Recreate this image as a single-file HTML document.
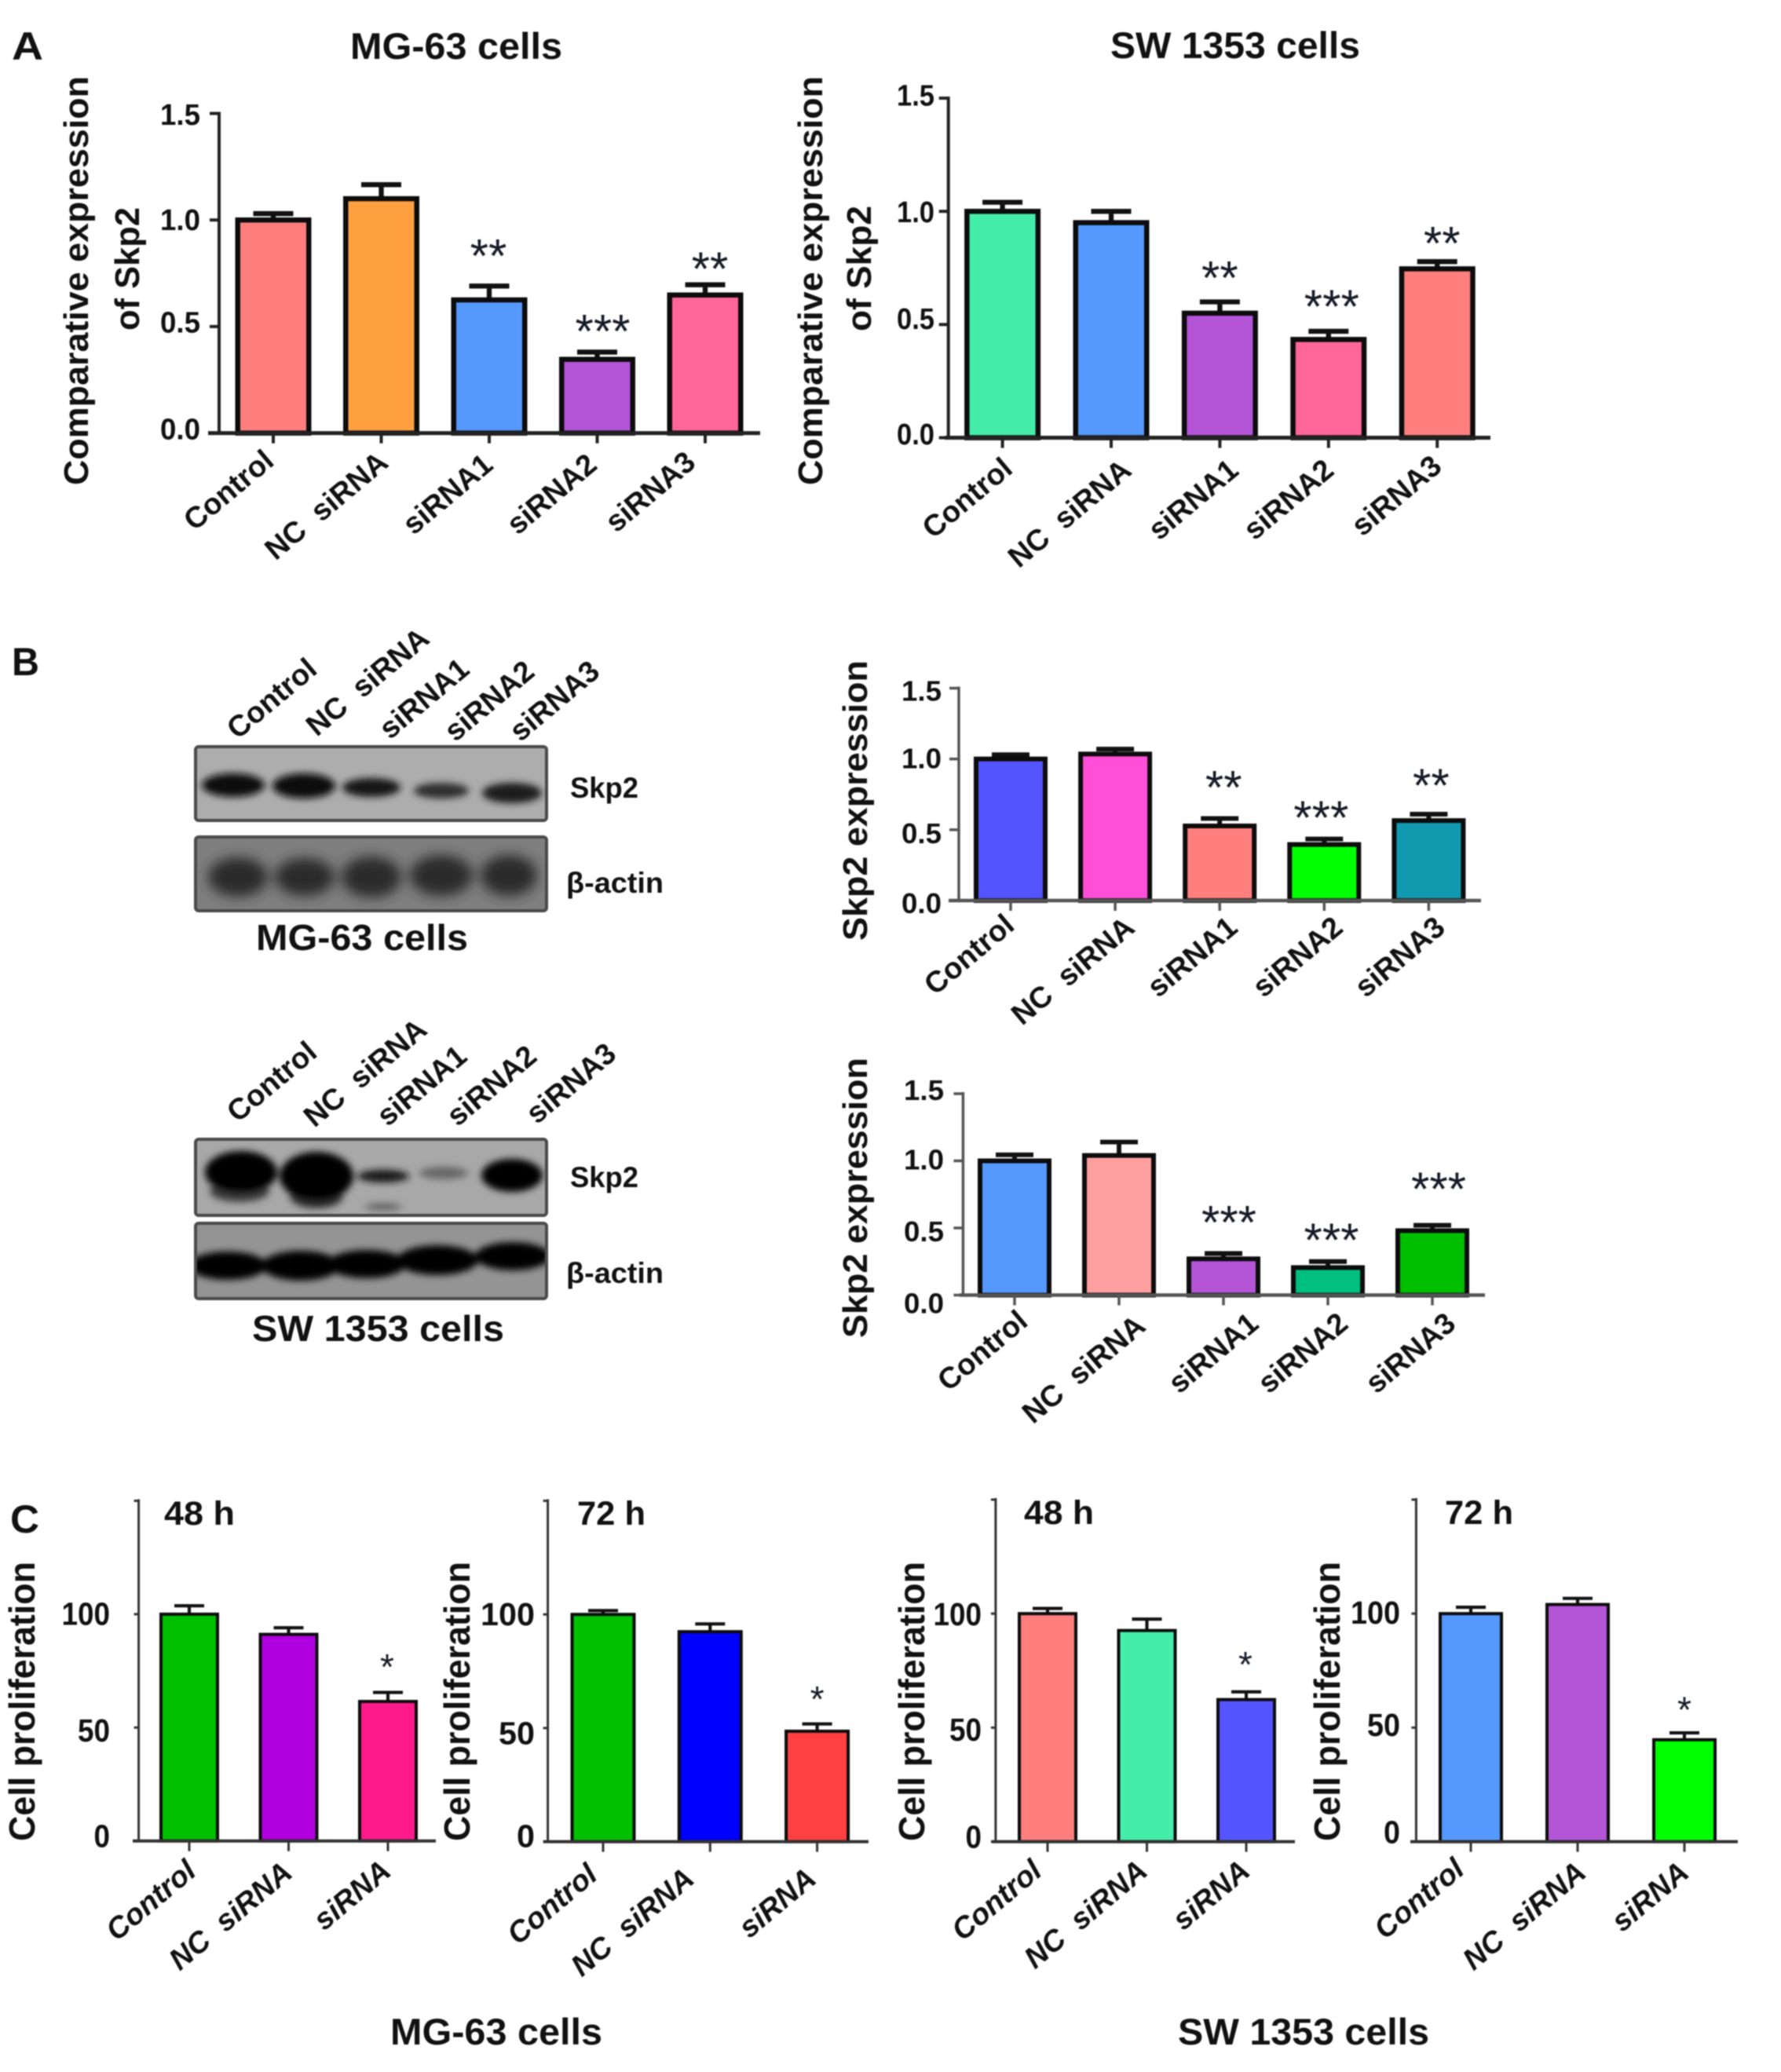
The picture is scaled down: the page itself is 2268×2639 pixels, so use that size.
<!DOCTYPE html>
<html lang="en">
<head>
<meta charset="utf-8">
<title>Skp2 knockdown figure</title>
<style>
html,body{margin:0;padding:0;background:#fff;}
#figure{display:block;width:2268px;height:2639px;filter:blur(0.7px);font-family:"Liberation Sans",sans-serif;}
#figure text{font-family:"Liberation Sans",sans-serif;font-weight:bold;fill:#111;}
</style>
</head>
<body>
<svg id="figure" xmlns="http://www.w3.org/2000/svg" width="2268" height="2639" viewBox="0 0 2268 2639">
  <defs>
    <filter id="soft" x="-40%" y="-80%" width="180%" height="260%"><feGaussianBlur stdDeviation="4.5"/></filter>
    <filter id="softer" x="-40%" y="-80%" width="180%" height="260%"><feGaussianBlur stdDeviation="8"/></filter>
    <clipPath id="clip-blot-1"><rect x="251" y="953" width="443" height="90"/></clipPath>
    <clipPath id="clip-blot-2"><rect x="251" y="1068" width="443" height="90"/></clipPath>
    <clipPath id="clip-blot-3"><rect x="251" y="1453" width="443" height="93"/></clipPath>
    <clipPath id="clip-blot-4"><rect x="251" y="1560" width="443" height="92"/></clipPath>
  </defs>
  <rect width="2268" height="2639" fill="#fff"/>

  <text x="15" y="76" font-size="50" textLength="40" lengthAdjust="spacingAndGlyphs">A</text>
  <text x="15" y="860" font-size="50" textLength="35" lengthAdjust="spacingAndGlyphs">B</text>
  <text x="13" y="1952" font-size="50" textLength="37" lengthAdjust="spacingAndGlyphs">C</text>

  <text x="446" y="75" font-size="47" textLength="270" lengthAdjust="spacingAndGlyphs">MG-63 cells</text>
  <text x="1414" y="74" font-size="47" textLength="318" lengthAdjust="spacingAndGlyphs">SW 1353 cells</text>

  <g>
    <g>
      <rect x="249" y="951" width="447" height="94" rx="4" fill="#adadad" stroke="#4a4a4a" stroke-width="4"/>
      <g clip-path="url(#clip-blot-1)"><g filter="url(#soft)" fill="#080808">
        <ellipse cx="297" cy="1000" rx="40" ry="15"/>
        <ellipse cx="387" cy="1001" rx="40" ry="16"/>
        <ellipse cx="473" cy="1003" rx="37" ry="12" fill="#141414"/>
        <ellipse cx="562" cy="1007" rx="35" ry="10" fill="#2e2e2e"/>
        <ellipse cx="652" cy="1010" rx="38" ry="13" fill="#1a1a1a"/>
      </g></g>
    </g>
    <g>
      <rect x="249" y="1066" width="447" height="94" rx="4" fill="#7f7f7f" stroke="#4a4a4a" stroke-width="4"/>
      <g clip-path="url(#clip-blot-2)"><g filter="url(#softer)" fill="#2a2a2a">
        <ellipse cx="303" cy="1117" rx="38" ry="25"/>
        <ellipse cx="388" cy="1117" rx="38" ry="24"/>
        <ellipse cx="473" cy="1117" rx="38" ry="26"/>
        <ellipse cx="562" cy="1115" rx="40" ry="26"/>
        <ellipse cx="648" cy="1115" rx="36" ry="26"/>
      </g></g>
    </g>
    <text text-anchor="end" font-size="38" transform="translate(406,856) rotate(-40)">Control</text>
    <text text-anchor="end" font-size="38" transform="translate(549,817) rotate(-40)">NC&#160;&#160;siRNA</text>
    <text text-anchor="end" font-size="38" transform="translate(600,856) rotate(-40)">siRNA1</text>
    <text text-anchor="end" font-size="38" transform="translate(683,859) rotate(-40)">siRNA2</text>
    <text text-anchor="end" font-size="38" transform="translate(766,859) rotate(-40)">siRNA3</text>
    <text x="726" y="1016" font-size="37" textLength="87" lengthAdjust="spacingAndGlyphs">Skp2</text>
    <text x="721" y="1137" font-size="37" textLength="124" lengthAdjust="spacingAndGlyphs">β-actin</text>
    <text x="326" y="1210" font-size="46" textLength="270" lengthAdjust="spacingAndGlyphs">MG-63 cells</text>
  </g>

  <g>
    <g>
      <rect x="249" y="1451" width="447" height="97" rx="4" fill="#a8a8a8" stroke="#4a4a4a" stroke-width="4"/>
      <g clip-path="url(#clip-blot-3)"><g filter="url(#soft)" fill="#000">
        <ellipse cx="305" cy="1517" rx="38" ry="14" fill="#3a3a3a"/>
        <ellipse cx="403" cy="1523" rx="34" ry="16" fill="#2c2c2c"/>
        <ellipse cx="307" cy="1493" rx="46" ry="27"/>
        <ellipse cx="403" cy="1498" rx="47" ry="31"/>
        <ellipse cx="488" cy="1498" rx="33" ry="8" fill="#141414"/>
        <ellipse cx="488" cy="1537" rx="24" ry="4" fill="#5a5a5a"/>
        <ellipse cx="565" cy="1494" rx="31" ry="8" fill="#666"/>
        <ellipse cx="652" cy="1497" rx="39" ry="21" fill="#050505"/>
      </g></g>
    </g>
    <g>
      <rect x="249" y="1558" width="447" height="96" rx="4" fill="#949494" stroke="#4a4a4a" stroke-width="4"/>
      <g clip-path="url(#clip-blot-4)"><g filter="url(#soft)" fill="#000">
        <ellipse cx="290" cy="1612" rx="50" ry="18"/>
        <ellipse cx="383" cy="1612" rx="50" ry="19"/>
        <ellipse cx="467" cy="1610" rx="50" ry="18"/>
        <ellipse cx="557" cy="1605" rx="52" ry="19"/>
        <ellipse cx="653" cy="1600" rx="48" ry="18"/>
      </g></g>
    </g>
    <text text-anchor="end" font-size="38" transform="translate(406,1344) rotate(-40)">Control</text>
    <text text-anchor="end" font-size="38" transform="translate(546,1315) rotate(-40)">NC&#160;&#160;siRNA</text>
    <text text-anchor="end" font-size="38" transform="translate(597,1349) rotate(-40)">siRNA1</text>
    <text text-anchor="end" font-size="38" transform="translate(686,1349) rotate(-40)">siRNA2</text>
    <text text-anchor="end" font-size="38" transform="translate(787,1346) rotate(-40)">siRNA3</text>
    <text x="726" y="1512" font-size="37" textLength="87" lengthAdjust="spacingAndGlyphs">Skp2</text>
    <text x="721" y="1634" font-size="37" textLength="124" lengthAdjust="spacingAndGlyphs">β-actin</text>
    <text x="321" y="1708" font-size="46" textLength="321" lengthAdjust="spacingAndGlyphs">SW 1353 cells</text>
  </g>

  <text x="209" y="1942" font-size="43" textLength="90" lengthAdjust="spacingAndGlyphs">48 h</text>
  <text x="735" y="1942" font-size="43" textLength="87" lengthAdjust="spacingAndGlyphs">72 h</text>
  <text x="1304" y="1941" font-size="43" textLength="89" lengthAdjust="spacingAndGlyphs">48 h</text>
  <text x="1840" y="1941" font-size="43" textLength="87" lengthAdjust="spacingAndGlyphs">72 h</text>
  <text x="497" y="2604" font-size="47" textLength="270" lengthAdjust="spacingAndGlyphs">MG-63 cells</text>
  <text x="1500" y="2604" font-size="47" textLength="320" lengthAdjust="spacingAndGlyphs">SW 1353 cells</text>

  <g id="charts"></g>
</svg>

<script>
// ---- chart data ----
const fiveCategories = ['Control', 'NC\u00a0\u00a0siRNA', 'siRNA1', 'siRNA2', 'siRNA3'];
const threeCategories = ['Control', 'NC\u00a0\u00a0siRNA', 'siRNA'];
const foldTicks = [1.5, 1.0, 0.5, 0.0];
const percentTicks = [100, 50, 0];

const a1Values = [1.00, 1.10, 0.625, 0.346, 0.648];
const a1Errors = [0.03, 0.066, 0.065, 0.034, 0.048];
const a1Stars = ['', '', '**', '***', '**'];

const a2Values = [1.00, 0.95, 0.55, 0.434, 0.746];
const a2Errors = [0.04, 0.05, 0.05, 0.036, 0.032];
const a2Stars = ['', '', '**', '***', '**'];

const b1Values = [1.00, 1.035, 0.527, 0.396, 0.565];
const b1Errors = [0.03, 0.035, 0.053, 0.039, 0.045];
const b1Stars = ['', '', '**', '***', '**'];

const b2Values = [1.00, 1.04, 0.27, 0.205, 0.48];
const b2Errors = [0.045, 0.10, 0.04, 0.045, 0.04];
const b2Stars = ['', '', '***', '***', '***'];

const c1Values = [100, 91.1, 61.5];
const c1Errors = [3.7, 2.9, 4.0];
const c1Stars = ['', '', '*'];

const c2Values = [100, 92.4, 48.6];
const c2Errors = [1.7, 3.4, 3.2];
const c2Stars = ['', '', '*'];

const c3Values = [100, 92.6, 62.3];
const c3Errors = [2.3, 5.0, 3.4];
const c3Stars = ['', '', '*'];

const c4Values = [100, 104, 44.7];
const c4Errors = [2.8, 2.7, 3.0];
const c4Stars = ['', '', '*'];

// ---- layout & style for each chart (not data) ----
const charts = [
  {id:'a-mg63', cats:fiveCategories, vals:a1Values, errs:a1Errors, stars:a1Stars, ticks:foldTicks, max:1.5,
   axisX:279, x0:265, x1:968, yTop:144.5, yBase:551.6, first:348, step:137.5, barW:97, sw:6.5, capW:51, axisW:4, axisC:'#222',
   colors:['#FF7F7F','#FFA040','#5599FF','#B455D8','#FF6699'],
   tickRight:255, charW:17, tickFont:38, tickNudge:[1,-1,-6,-6], anchor:[2,7],
   catFont:38, italic:false, catNudge:[[1,32],[9,34],[5,37],[0,37],[-12,34]],
   starFont:60, starPlace:[null,null,[-1,52],[7,40],[6,34]],
   ylabels:[{t:'Comparative expression',x:112,y0:97,y1:618,f:44},{t:'of Skp2',x:177,y0:264,y1:421,f:44}]},
  {id:'a-sw1353', cats:fiveCategories, vals:a2Values, errs:a2Errors, stars:a2Stars, ticks:foldTicks, max:1.5,
   axisX:1207.7, x0:1203, x1:1898, yTop:125, yBase:557.5, first:1276.6, step:138.4, barW:97, sw:6.5, capW:51, axisW:4, axisC:'#222',
   colors:['#44EEAA','#5599FF','#B455D8','#FF6699','#FF7F7F'],
   tickRight:1190, charW:16, tickFont:38, tickNudge:[-4,0,-8,-5], anchor:[3,4],
   catFont:38, italic:false, catNudge:[[12,39],[25,41],[23,41],[6,41],[5,36]],
   starFont:60, starPlace:[null,null,[0,44],[4,45],[6,37]],
   ylabels:[{t:'Comparative expression',x:1047,y0:97,y1:618,f:44},{t:'of Skp2',x:1109,y0:262,y1:422,f:44}]},
  {id:'b-mg63', cats:fiveCategories, vals:b1Values, errs:b1Errors, stars:b1Stars, ticks:foldTicks, max:1.5,
   axisX:1221, x0:1208, x1:1886, yTop:876.5, yBase:1147, first:1287, step:133.1, barW:94, sw:6, capW:48, axisW:3.5, axisC:'#555',
   colors:['#5555FF','#FF4FD8','#FF7F7F','#00FF00','#1199B0'],
   tickRight:1199, charW:17, tickFont:36, tickNudge:[3,-1,4,3], anchor:[4,9],
   catFont:38, italic:false, catNudge:[[3,26],[23,29],[21,29],[22,29],[19,29]],
   starFont:60, starPlace:[null,null,[5,53],[-4,41],[3,50]],
   ylabels:[{t:'Skp2 expression',x:1104,y0:841,y1:1198,f:44}]},
  {id:'b-sw1353', cats:fiveCategories, vals:b2Values, errs:b2Errors, stars:b2Stars, ticks:foldTicks, max:1.5,
   axisX:1226.4, x0:1222, x1:1891, yTop:1393, yBase:1649.5, first:1292, step:133, barW:94, sw:6, capW:48, axisW:3.5, axisC:'#555',
   colors:['#5599FF','#FF9F9F','#B455D8','#00C07F','#00BF00'],
   tickRight:1202, charW:17, tickFont:36, tickNudge:[-5,-2,4,10], anchor:[5,13],
   catFont:38, italic:false, catNudge:[[14,24],[31,30],[42,27],[23,27],[27,27]],
   starFont:60, starPlace:[null,null,[7,53],[4.5,41],[8,60]],
   ylabels:[{t:'Skp2 expression',x:1104,y0:1347,y1:1704,f:44}]},
  {id:'c-mg63-48h', cats:threeCategories, vals:c1Values, errs:c1Errors, stars:c1Stars, ticks:percentTicks, max:150,
   axisX:176.6, x0:169, x1:555, yTop:1911.5, yBase:2344.7, first:241, step:126.5, barW:76, sw:4, capW:38, axisW:3, axisC:'#333',
   colors:['#00C000','#B000E0','#FF1A8C'],
   tickRight:140, charW:20.5, tickFont:41, tickNudge:[-1,3,-7], anchor:[3,5],
   catFont:38, italic:true, catNudge:[[8,37],[4,39],[3,37]],
   starFont:46, starPlace:[null,null,[-1,43]],
   ylabels:[{t:'Cell proliferation',x:44,y0:1989,y1:2345,f:46}]},
  {id:'c-mg63-72h', cats:threeCategories, vals:c2Values, errs:c2Errors, stars:c2Stars, ticks:percentTicks, max:150,
   axisX:697.6, x0:692, x1:1106, yTop:1911.5, yBase:2345.6, first:768, step:136.3, barW:83, sw:4, capW:38, axisW:3, axisC:'#333',
   colors:['#00C000','#0000FF','#FF4040'],
   tickRight:681, charW:23, tickFont:41, tickNudge:[-1,6,-8], anchor:[3,5],
   catFont:38, italic:true, catNudge:[[-8,41],[-21,46],[-2,46]],
   starFont:46, starPlace:[null,null,[0,42]],
   ylabels:[{t:'Cell proliferation',x:598,y0:1989,y1:2345,f:46}]},
  {id:'c-sw1353-48h', cats:threeCategories, vals:c3Values, errs:c3Errors, stars:c3Stars, ticks:percentTicks, max:150,
   axisX:1267.9, x0:1263, x1:1649, yTop:1910, yBase:2345.6, first:1334, step:126.5, barW:76, sw:4, capW:38, axisW:3, axisC:'#333',
   colors:['#FF7F7F','#44EEAA','#5555FF'],
   tickRight:1250, charW:20.5, tickFont:41, tickNudge:[0,2,-7], anchor:[3,5],
   catFont:38, italic:true, catNudge:[[-8,36],[0,36],[4,36]],
   starFont:46, starPlace:[null,null,[-1,45]],
   ylabels:[{t:'Cell proliferation',x:1177,y0:1989,y1:2345,f:46}]},
  {id:'c-sw1353-72h', cats:threeCategories, vals:c4Values, errs:c4Errors, stars:c4Stars, ticks:percentTicks, max:150,
   axisX:1803.4, x0:1796, x1:2213, yTop:1910, yBase:2345.6, first:1873, step:136, barW:82, sw:4, capW:38, axisW:3, axisC:'#333',
   colors:['#5599FF','#B455D8','#00FF00'],
   tickRight:1783, charW:21, tickFont:41, tickNudge:[-2,-4,-13], anchor:[3,5],
   catFont:38, italic:true, catNudge:[[-9,34],[10,38],[5,38]],
   starFont:46, starPlace:[null,null,[0,40]],
   ylabels:[{t:'Cell proliferation',x:1706,y0:1989,y1:2345,f:46}]}
];

// ---- drawing helpers ----
const NS = 'http://www.w3.org/2000/svg';
function make(parent, tag, props, content) {
  const node = document.createElementNS(NS, tag);
  for (const key in props) node.setAttribute(key, props[key]);
  if (content !== undefined) node.textContent = content;
  parent.appendChild(node);
  return node;
}
function slug(s) { return s.toLowerCase().replace(/[^a-z0-9.]+/g, '-'); }
function tickText(v, max) { return max > 10 ? String(v) : v.toFixed(1); }

const root = document.getElementById('charts');
charts.forEach(function (c) {
  const yScale = function (v) { return c.yBase - (v / c.max) * (c.yBase - c.yTop); };
  const xScale = function (i) { return c.first + c.step * i; };

  const group = make(root, 'g', {});
  
  

  // bars, error bars, significance marks
  c.vals.forEach(function (v, i) {
    const cx = xScale(i);
    const top = yScale(v);
    const errTop = yScale(v + c.errs[i]);

    const whisker = make(group, 'path', {
      d: 'M' + cx + ' ' + top + 'V' + errTop + 'M' + (cx - c.capW / 2) + ' ' + errTop + 'H' + (cx + c.capW / 2),
      stroke: '#111', 'stroke-width': c.sw * 0.9 + 0.5, fill: 'none'
    });
    
    

    const bar = make(group, 'rect', {
      x: cx - c.barW / 2 + c.sw / 2,
      y: top,
      width: c.barW - c.sw,
      height: c.yBase - top,
      fill: c.colors[i], stroke: '#0c0c0c', 'stroke-width': c.sw
    });
    
    

    if (c.stars[i]) {
      const place = c.starPlace[i];
      const star = make(group, 'text', {
        x: cx + place[0],
        y: errTop - place[1] + c.starFont * 0.57,
        'text-anchor': 'middle',
        'font-size': c.starFont,
        style: 'font-weight:normal;fill:#151a25'
      }, c.stars[i]);
      
      
    }

    const tick = make(group, 'line', {
      x1: cx, x2: cx, y1: c.yBase, y2: c.yBase + 13, stroke: c.axisC, 'stroke-width': c.axisW
    });
    
    

    const nudge = c.catNudge[i];
    const label = make(group, 'text', {
      'text-anchor': 'end',
      'font-size': c.catFont,
      'font-style': c.italic ? 'italic' : 'normal',
      transform: 'translate(' + (cx + nudge[0] + c.anchor[0]) + ',' + (c.yBase + nudge[1] + c.anchor[1]) + ') rotate(-40)'
    }, c.cats[i]);
    
    
  });

  // axes
  const yAxis = make(group, 'line', {
    x1: c.axisX, x2: c.axisX, y1: c.yTop - 2, y2: c.yBase, stroke: c.axisC, 'stroke-width': c.axisW
  });
  
  

  const xAxis = make(group, 'line', {
    x1: c.x0, x2: c.x1, y1: c.yBase, y2: c.yBase, stroke: c.axisC, 'stroke-width': c.axisW + 1
  });
  
  

  // y ticks + labels
  const allTicks = c.max > 10 ? [c.max].concat(c.ticks) : c.ticks;
  allTicks.forEach(function (v) {
    const yy = yScale(v);
    const mark = make(group, 'line', {
      x1: c.axisX - (c.max > 10 ? 6 : 12), x2: c.axisX, y1: yy, y2: yy, stroke: c.axisC, 'stroke-width': c.axisW
    });
    
    
  });
  c.ticks.forEach(function (v, i) {
    const str = tickText(v, c.max);
    const tl = make(group, 'text', {
      x: c.tickRight,
      y: yScale(v) + c.tickNudge[i] + c.tickFont * 0.36,
      'text-anchor': 'end',
      'font-size': c.tickFont,
      textLength: str.length * c.charW,
      lengthAdjust: 'spacingAndGlyphs'
    }, str);
    
    
  });

  // y axis titles
  c.ylabels.forEach(function (l) {
    const title = make(group, 'text', {
      'font-size': l.f,
      textLength: l.y1 - l.y0,
      lengthAdjust: 'spacingAndGlyphs',
      transform: 'translate(' + l.x + ',' + l.y1 + ') rotate(-90)'
    }, l.t);
    
    
  });
});
</script>
</body>
</html>
